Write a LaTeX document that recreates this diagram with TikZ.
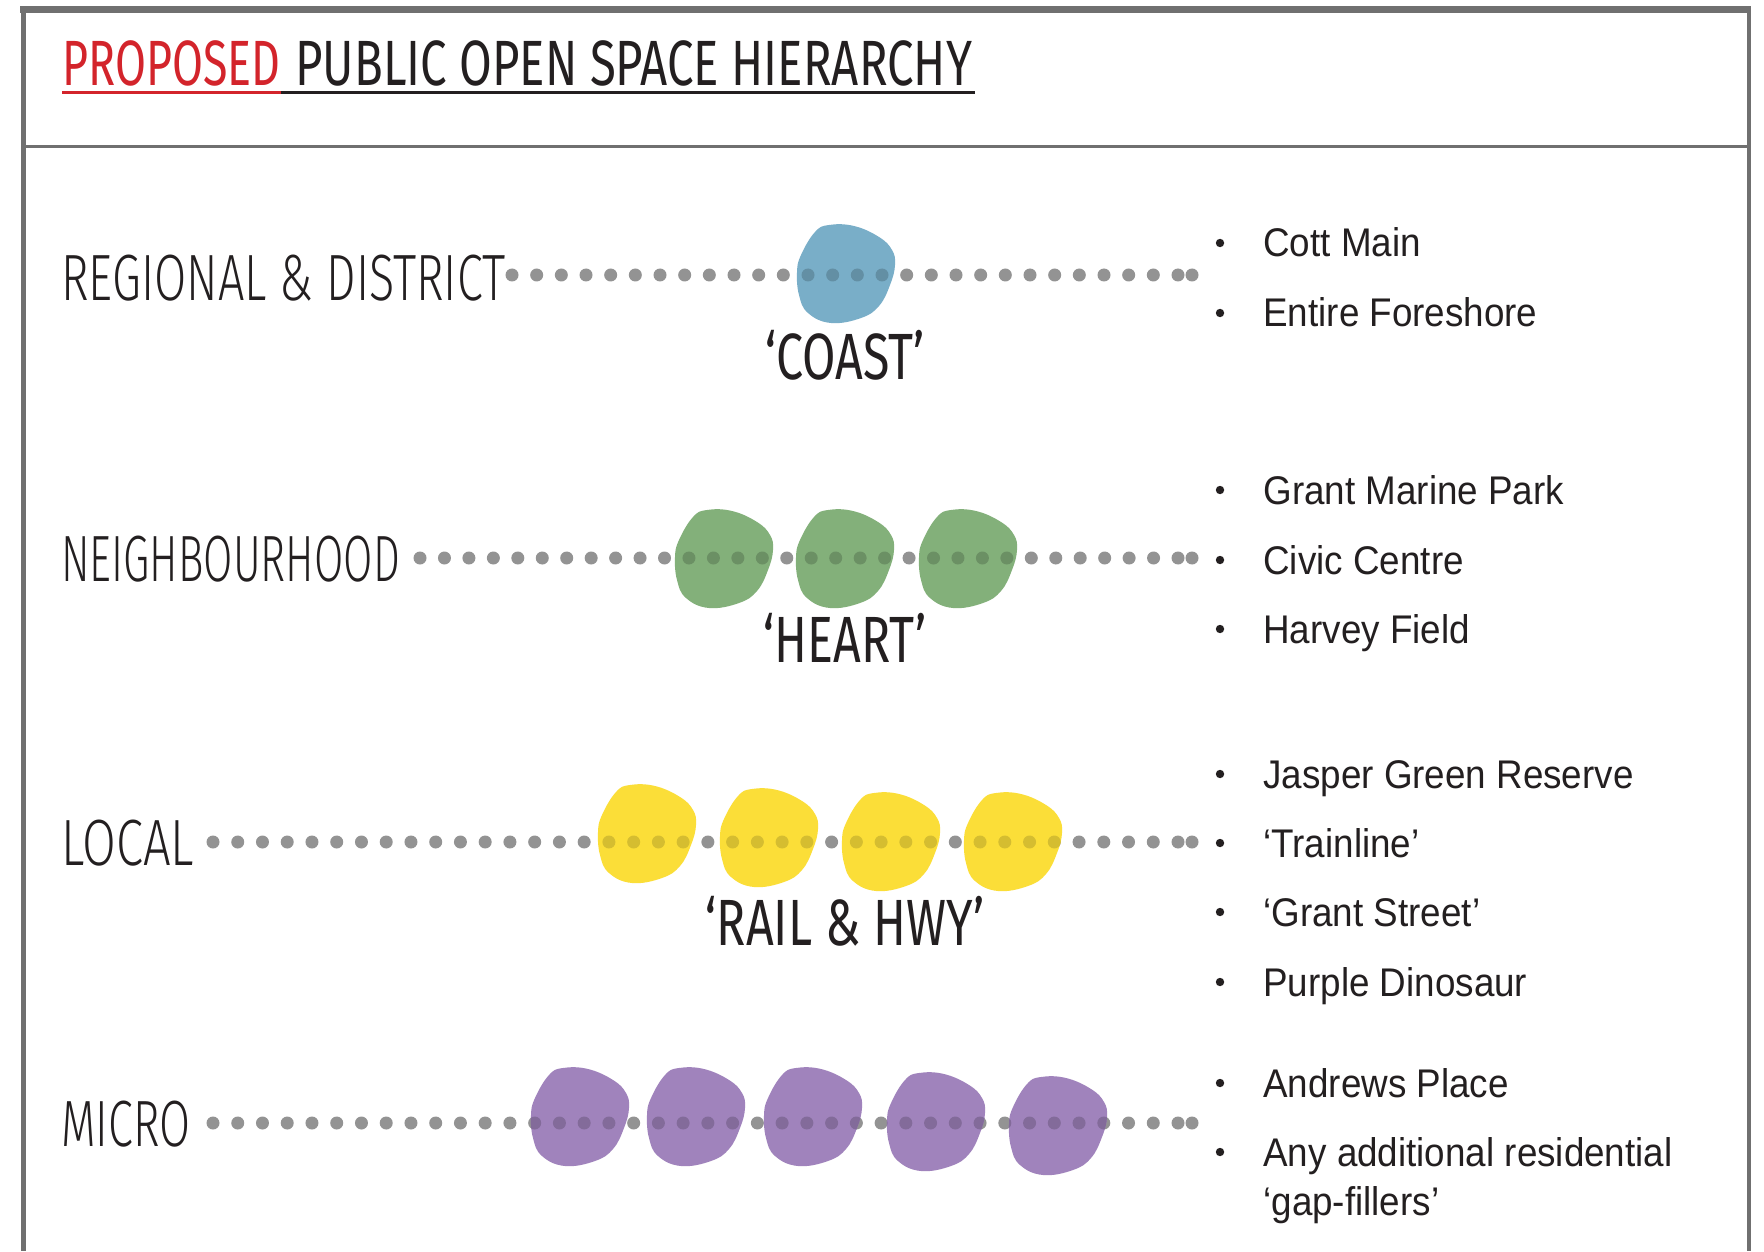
\documentclass[tikz,border=0pt]{standalone}
\usepackage{fontspec}
\usepackage{graphicx}
\setmainfont{Liberation Sans}
\newfontfamily\titlefont[FakeStretch=0.74]{Fira Sans}
\newfontfamily\redfont[FakeStretch=0.70]{Fira Sans}
\newfontfamily\labfont[FakeStretch=0.68]{Fira Sans Light}
\newfontfamily\listfont[FakeStretch=0.92]{Liberation Sans}
\usetikzlibrary{calc}
\definecolor{framegray}{HTML}{707070}
\definecolor{dotgray}{HTML}{939393}
\definecolor{titlered}{HTML}{D3242B}
\definecolor{ink}{HTML}{231F20}
\definecolor{blobblue}{HTML}{79AEC8}
\definecolor{blobgreen}{HTML}{83B07A}
\definecolor{blobyellow}{HTML}{FBDE38}
\definecolor{blobpurple}{HTML}{A083BC}
\newcommand{\blob}[2]{plot[smooth cycle,tension=0.7] coordinates{(#1-17,#2-49) (#1+8,#2-48) (#1+33,#2-37) (#1+46,#2-24) (#1+49,#2-9) (#1+44,#2+11) (#1+33,#2+32) (#1+15,#2+44) (#1-15,#2+49) (#1-38,#2+39) (#1-47,#2+21) (#1-49,#2-2) (#1-45,#2-19) (#1-31,#2-42)}}
\tikzset{
  framerule/.style={draw=framegray},
  dotline/.style={line width=6.5pt, line cap=round, dash pattern=on 0pt off #1},
  titletext/.style={anchor=base west, inner sep=0pt, text=ink, font=\titlefont\fontsize{32}{36}\selectfont},
  rowlabel/.style={anchor=base west, inner sep=0pt, text=ink, font=\labfont\fontsize{32.7}{36}\selectfont},
  taglabel/.style={anchor=base, inner sep=0pt, text=ink, font=\titlefont\fontsize{32.7}{36}\selectfont},
  item/.style={anchor=base west, inner sep=0pt, text=ink, font=\listfont\fontsize{20}{24}\selectfont},
  bulletdot/.style={fill=ink},
}
\begin{document}
\begin{tikzpicture}[x=0.5pt, y=-0.5pt]
\useasboundingbox[fill=white] (0,0) rectangle (1764,1251);
% frame
\draw[framerule, line width=3.5pt] (20,9.5) -- (1751,9.5);
\draw[framerule, line width=2.5pt] (23,9) -- (23,1251);
\draw[framerule, line width=2pt] (1749,9) -- (1749,1251);
\draw[framerule, line width=1.25pt] (23,146.5) -- (1749,146.5);
% title
\node[titletext, text=titlered, font=\redfont\fontsize{32}{36}\selectfont] (t1) at (62,86) {PROPOSED};
\node[titletext] (t2) at (295,86) {PUBLIC OPEN SPACE HIERARCHY};
\coordinate (u0) at ($(t1.base west)+(0,7)$);
\coordinate (u1) at ($(t2.base west)+(-14,7)$);
\coordinate (u2) at ($(t2.base east)+(3,7)$);
\draw[titlered, line width=1.5pt] (u0) -- (u1);
\draw[ink, line width=1.5pt] (u1) -- (u2);

% ---------- row 1
\node[rowlabel] (lab1) at (61,300) {\scalebox{1.05}[1]{REGIONAL \& DISTRICT}};
\coordinate (s1) at (512,275); \coordinate (e1) at (1178.5,275); \coordinate (x1) at (1192,275);
\draw[dotgray, dotline=12.333pt] (s1) -- (e1);
\fill[dotgray] (x1) circle (6.5);
\fill[blobblue] \blob{846}{274};
\begin{scope}
\clip \blob{846}{274};
\draw[blobblue!82!black, dotline=12.333pt] (s1) -- (e1);
\end{scope}
\node[taglabel] (tag1) at (845,379) {‘COAST’};
\fill[bulletdot] (1220,243) circle (4.2);
\node[item] (i11) at (1263,257) {Cott Main};
\fill[bulletdot] (1220,313) circle (4.2);
\node[item] (i12) at (1263,327) {Entire Foreshore};

% ---------- row 2
\node[rowlabel] (lab2) at (61,581) {\scalebox{0.955}[1]{NEIGHBOURHOOD}};
\coordinate (s2) at (420,558); \coordinate (e2) at (1178.5,558); \coordinate (x2) at (1192,558);
\draw[dotgray, dotline=12.226pt] (s2) -- (e2);
\fill[dotgray] (x2) circle (6.5);
\fill[blobgreen] \blob{724}{559} \blob{845}{559} \blob{968}{559};
\begin{scope}
\clip \blob{724}{559} \blob{845}{559} \blob{968}{559};
\draw[blobgreen!82!black, dotline=12.226pt] (s2) -- (e2);
\end{scope}
\node[taglabel] (tag2) at (845,662) {‘HEART’};
\fill[bulletdot] (1220,490) circle (4.2);
\node[item] (i21) at (1263,504) {Grant Marine Park};
\fill[bulletdot] (1220,560) circle (4.2);
\node[item] (i22) at (1263,574) {Civic Centre};
\fill[bulletdot] (1220,629) circle (4.2);
\node[item] (i23) at (1263,643) {Harvey Field};

% ---------- row 3
\node[rowlabel] (lab3) at (61,865) {\scalebox{1.10}[1]{LOCAL}};
\coordinate (s3) at (213,842); \coordinate (e3) at (1178.5,842); \coordinate (x3) at (1192,842);
\draw[dotgray, dotline=12.372pt] (s3) -- (e3);
\fill[dotgray] (x3) circle (6.5);
\fill[blobyellow] \blob{647}{834} \blob{769}{838} \blob{891}{842} \blob{1013}{842};
\begin{scope}
\clip \blob{647}{834} \blob{769}{838} \blob{891}{842} \blob{1013}{842};
\draw[blobyellow!85!black, dotline=12.372pt] (s3) -- (e3);
\end{scope}
\node[taglabel] (tag3) at (845,945) {‘RAIL \& HWY’};
\fill[bulletdot] (1220,774) circle (4.2);
\node[item] (i31) at (1263,788) {Jasper Green Reserve};
\fill[bulletdot] (1220,843) circle (4.2);
\node[item] (i32) at (1263,857) {‘Trainline’};
\fill[bulletdot] (1220,912) circle (4.2);
\node[item] (i33) at (1263,926) {‘Grant Street’};
\fill[bulletdot] (1220,982) circle (4.2);
\node[item] (i34) at (1263,996) {Purple Dinosaur};

% ---------- row 4
\node[rowlabel] (lab4) at (61,1146) {\scalebox{1.01}[1]{MICRO}};
\coordinate (s4) at (213,1123); \coordinate (e4) at (1178.5,1123); \coordinate (x4) at (1192,1123);
\draw[dotgray, dotline=12.372pt] (s4) -- (e4);
\fill[dotgray] (x4) circle (6.5);
\fill[blobpurple] \blob{580}{1117} \blob{696}{1117} \blob{813}{1117} \blob{936}{1122} \blob{1058}{1126};
\begin{scope}
\clip \blob{580}{1117} \blob{696}{1117} \blob{813}{1117} \blob{936}{1122} \blob{1058}{1126};
\draw[blobpurple!82!black, dotline=12.372pt] (s4) -- (e4);
\end{scope}
\fill[bulletdot] (1220,1083) circle (4.2);
\node[item] (i41) at (1263,1097) {Andrews Place};
\fill[bulletdot] (1220,1152) circle (4.2);
\node[item] (i42) at (1263,1166) {Any additional residential};
\node[item] (i42b) at (1263,1215) {‘gap-fillers’};
\end{tikzpicture}
\end{document}
